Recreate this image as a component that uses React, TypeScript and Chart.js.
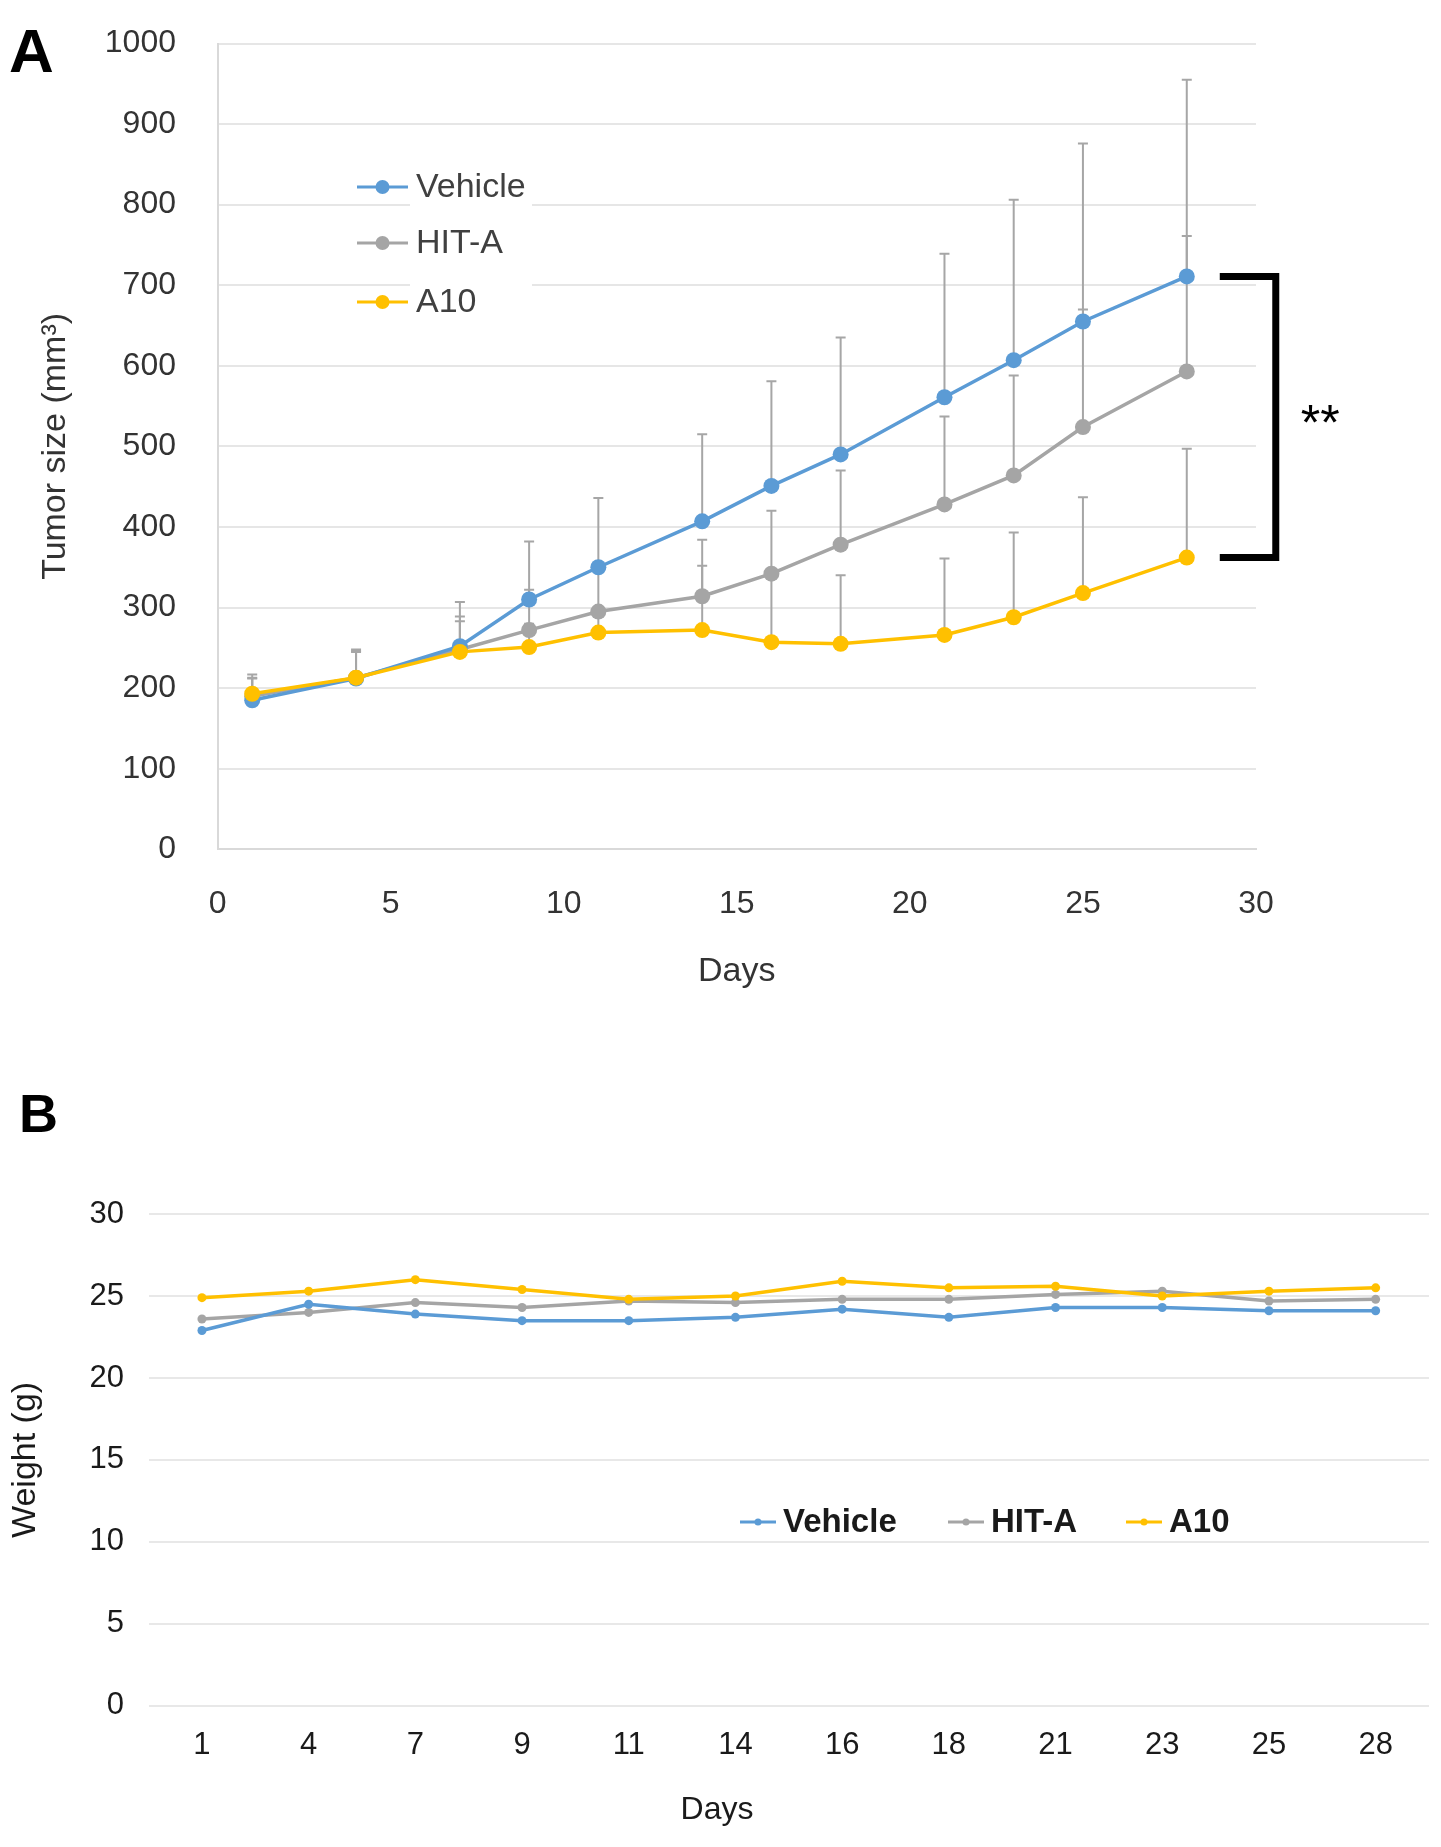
import React, { useEffect, useRef } from "react";
import { Chart, registerables } from "chart.js";

Chart.register(...registerables);

// ---------- data ----------
const days = [1, 4, 7, 9, 11, 14, 16, 18, 21, 23, 25, 28];
const seriesNames = ["Vehicle", "HIT-A", "A10"];
const seriesColors = ["#5B9BD5", "#A5A5A5", "#FFC000"];

const tumorVehicle = [185, 212, 252, 310, 350, 407, 451, 490, 561, 607, 655, 711];
const tumorHitA = [190, 213, 248, 272, 295, 314, 342, 378, 428, 464, 524, 593];
const tumorA10 = [193, 213, 245, 251, 269, 272, 257, 255, 266, 288, 318, 362];
const sdVehicle = [32, 36, 55, 72, 86, 108, 130, 145, 178, 199, 221, 244];
const sdHitA = [23, 33, 41, 50, 50, 70, 78, 92, 109, 124, 146, 168];
const sdA10 = [19, 32, 38, 29, 31, 80, 83, 85, 95, 105, 119, 135];

const weightDayLabels = ["1", "4", "7", "9", "11", "14", "16", "18", "21", "23", "25", "28"];
const weightVehicle = [22.9, 24.5, 23.9, 23.5, 23.5, 23.7, 24.2, 23.7, 24.3, 24.3, 24.1, 24.1];
const weightHitA = [23.6, 24.0, 24.6, 24.3, 24.7, 24.6, 24.8, 24.8, 25.1, 25.3, 24.7, 24.8];
const weightA10 = [24.9, 25.3, 26.0, 25.4, 24.8, 25.0, 25.9, 25.5, 25.6, 25.0, 25.3, 25.5];

const FONT = "'Liberation Sans', Arial, Helvetica, sans-serif";

// ---------- plugins ----------
const errorBarPlugin = {
  id: "errorBars",
  beforeDatasetsDraw(chart: any, _a: any, opts: any) {
    if (!opts || !opts.enabled) return;
    const { ctx, scales } = chart;
    const xs = scales.x;
    const ys = scales.y;
    ctx.save();
    ctx.strokeStyle = opts.color;
    ctx.lineWidth = opts.width;
    chart.data.datasets.forEach((ds: any) => {
      const sd = ds.errorSd;
      if (!sd) return;
      ds.data.forEach((p: any, j: number) => {
        const px = xs.getPixelForValue(p.x);
        const py = ys.getPixelForValue(p.y);
        const pt = ys.getPixelForValue(p.y + sd[j]);
        ctx.beginPath();
        ctx.moveTo(px, py);
        ctx.lineTo(px, pt);
        ctx.moveTo(px - opts.cap, pt);
        ctx.lineTo(px + opts.cap, pt);
        ctx.stroke();
      });
    });
    ctx.restore();
  },
};

const bracketPlugin = {
  id: "sigBracket",
  afterDatasetsDraw(chart: any, _a: any, opts: any) {
    if (!opts || !opts.enabled) return;
    const { ctx, scales } = chart;
    const dsTop = chart.data.datasets[opts.from];
    const dsBot = chart.data.datasets[opts.to];
    const pTop = dsTop.data[dsTop.data.length - 1];
    const pBot = dsBot.data[dsBot.data.length - 1];
    const px = scales.x.getPixelForValue(pTop.x);
    const y1 = scales.y.getPixelForValue(pTop.y);
    const y2 = scales.y.getPixelForValue(pBot.y);
    const xl = px + opts.gap;
    const xr = px + opts.gap + opts.arm;
    ctx.save();
    ctx.strokeStyle = "#000";
    ctx.lineWidth = opts.width;
    ctx.lineJoin = "miter";
    ctx.beginPath();
    ctx.moveTo(xl, y1);
    ctx.lineTo(xr, y1);
    ctx.lineTo(xr, y2);
    ctx.lineTo(xl, y2);
    ctx.stroke();
    ctx.fillStyle = "#000";
    ctx.font = opts.font;
    ctx.textAlign = "left";
    ctx.textBaseline = "alphabetic";
    ctx.fillText(opts.text, xr + opts.textGap, (y1 + y2) / 2 + opts.textDy);
    ctx.restore();
  },
};

const legendPlugin = {
  id: "customLegend",
  afterDraw(chart: any, _a: any, opts: any) {
    if (!opts || !opts.enabled) return;
    const { ctx } = chart;
    const ds = chart.data.datasets;
    ctx.save();
    if (opts.bg) {
      ctx.fillStyle = "#fff";
      ctx.fillRect(opts.bg[0], opts.bg[1], opts.bg[2], opts.bg[3]);
    }
    ctx.font = opts.font;
    ctx.textBaseline = "middle";
    ctx.textAlign = "left";
    opts.order.forEach((idx: number, k: number) => {
      const d = ds[idx];
      const x0 = opts.xs[k];
      const y = opts.ys[k];
      ctx.strokeStyle = d.borderColor;
      ctx.lineWidth = opts.lineWidth;
      ctx.beginPath();
      ctx.moveTo(x0, y);
      ctx.lineTo(x0 + opts.markerLen, y);
      ctx.stroke();
      ctx.fillStyle = d.borderColor;
      ctx.beginPath();
      ctx.arc(x0 + opts.markerLen / 2, y, opts.dot, 0, Math.PI * 2);
      ctx.fill();
      ctx.fillStyle = opts.color;
      ctx.fillText(d.label, x0 + opts.markerLen + opts.textGap, y + 1);
    });
    ctx.restore();
  },
};

const textPlugin = {
  id: "panelText",
  afterDraw(chart: any, _a: any, opts: any) {
    if (!opts || !opts.items) return;
    const { ctx } = chart;
    opts.items.forEach((it: any) => {
      ctx.save();
      ctx.font = it.font;
      ctx.fillStyle = it.color;
      ctx.textAlign = it.align || "left";
      ctx.textBaseline = it.baseline || "alphabetic";
      ctx.fillText(it.text, it.x, it.y);
      ctx.restore();
    });
  },
};

Chart.register(errorBarPlugin as any, bracketPlugin as any, legendPlugin as any, textPlugin as any);

const toPoints = (vals: number[]) => days.map((d, i) => ({ x: d, y: vals[i] }));

function TumorChart() {
  const ref = useRef<HTMLCanvasElement | null>(null);
  useEffect(() => {
    if (!ref.current) return;
    const values = [tumorVehicle, tumorHitA, tumorA10];
    const sds = [sdVehicle, sdHitA, sdA10];
    const orders = [1, 2, 0];
    const chart = new Chart(ref.current, {
      type: "line",
      data: {
        datasets: seriesNames.map((name, i) => ({
          label: name,
          data: toPoints(values[i]),
          errorSd: sds[i],
          borderColor: seriesColors[i],
          backgroundColor: seriesColors[i],
          pointBackgroundColor: seriesColors[i],
          pointBorderColor: seriesColors[i],
          borderWidth: 3.5,
          pointRadius: 8,
          pointBorderWidth: 0,
          tension: 0,
          order: orders[i],
        })) as any,
      },
      options: {
        responsive: false,
        animation: false,
        devicePixelRatio: 1,
        layout: { padding: { left: 0, right: 185, top: 43.5, bottom: 0 } },
        plugins: {
          legend: { display: false },
          tooltip: { enabled: false },
          errorBars: { enabled: true, color: "#A6A6A6", width: 2, cap: 5 },
          sigBracket: {
            enabled: true, from: 0, to: 2, gap: 33, arm: 56, width: 7,
            text: "**", font: `50px ${FONT}`, textGap: 25, textDy: 23,
          },
          customLegend: {
            enabled: true,
            order: [0, 1, 2],
            xs: [357, 357, 357],
            ys: [187, 243, 302],
            markerLen: 51,
            textGap: 8,
            dot: 7,
            lineWidth: 3,
            font: `34px ${FONT}`,
            color: "#404040",
            bg: [410, 160, 122, 165],
          },
          panelText: {
            items: [{ text: "A", x: 9, y: 72, font: `bold 62px ${FONT}`, color: "#000" }],
          },
        } as any,
        scales: {
          x: {
            type: "linear",
            min: 0,
            max: 30,
            ticks: {
              stepSize: 5,
              padding: 36,
              color: "#333",
              font: { family: FONT, size: 32 },
              callback: (v: any) => String(v),
            },
            grid: { display: false, drawTicks: false },
            border: { display: true, color: "#D9D9D9", width: 2 },
            title: {
              display: true,
              text: "Days",
              color: "#333",
              font: { family: FONT, size: 34 },
              padding: { top: 0, bottom: 18 },
            },
            afterFit: (s: any) => { s.height = 160.7; },
          },
          y: {
            min: 0,
            max: 1000,
            ticks: {
              stepSize: 100,
              padding: 0,
              color: "#333",
              font: { family: FONT, size: 32 },
              callback: (v: any) => String(v),
            },
            grid: {
              color: "#E6E6E6",
              lineWidth: 2,
              drawTicks: true,
              tickLength: 41.6,
              tickColor: "rgba(0,0,0,0)",
            },
            border: { display: true, color: "#D9D9D9", width: 2 },
            title: {
              display: true,
              text: "Tumor size (mm³)",
              color: "#333",
              font: { family: FONT, size: 34 },
              padding: { top: 35.6, bottom: 0 },
            },
            afterFit: (s: any) => { s.width = 217.6; },
          },
        } as any,
      },
    });
    return () => chart.destroy();
  }, []);
  return (
    <canvas
      ref={ref}
      width={1441}
      height={1010}
      style={{ position: "absolute", left: 0, top: 0, width: 1441, height: 1010 }}
    />
  );
}

function WeightChart() {
  const ref = useRef<HTMLCanvasElement | null>(null);
  useEffect(() => {
    if (!ref.current) return;
    const values = [weightVehicle, weightHitA, weightA10];
    const orders = [1, 2, 0];
    const chart = new Chart(ref.current, {
      type: "line",
      data: {
        labels: weightDayLabels,
        datasets: seriesNames.map((name, i) => ({
          label: name,
          data: values[i],
          borderColor: seriesColors[i],
          backgroundColor: seriesColors[i],
          pointBackgroundColor: seriesColors[i],
          pointBorderColor: seriesColors[i],
          borderWidth: 3.5,
          pointRadius: 4.5,
          pointBorderWidth: 0,
          tension: 0,
          order: orders[i],
        })),
      },
      options: {
        responsive: false,
        animation: false,
        devicePixelRatio: 1,
        layout: { padding: { left: 0, right: 12, top: 174.1, bottom: 0 } },
        plugins: {
          legend: { display: false },
          tooltip: { enabled: false },
          customLegend: {
            enabled: true,
            order: [0, 1, 2],
            xs: [740, 948, 1126],
            ys: [482, 482, 482],
            markerLen: 36,
            textGap: 7,
            dot: 3.5,
            lineWidth: 3,
            font: `bold 33px ${FONT}`,
            color: "#1A1A1A",
          },
          panelText: {
            items: [
              { text: "B", x: 19, y: 92, font: `bold 54px ${FONT}`, color: "#000" },
              { text: "Days", x: 717, y: 770, font: `32px ${FONT}`, color: "#1A1A1A", align: "center", baseline: "middle" },
            ],
          },
        } as any,
        scales: {
          x: {
            type: "category",
            offset: true,
            ticks: {
              padding: 21.5,
              color: "#1A1A1A",
              font: { family: FONT, size: 31 },
            },
            grid: { display: false, drawTicks: false },
            border: { display: false },
            afterFit: (s: any) => { s.height = 141.2; },
          },
          y: {
            min: 0,
            max: 30,
            ticks: {
              stepSize: 5,
              padding: 24.6,
              color: "#1A1A1A",
              font: { family: FONT, size: 31 },
              callback: (v: any) => String(v),
            },
            grid: { color: "#E8E8E8", lineWidth: 2, drawTicks: false },
            border: { display: false },
            title: {
              display: true,
              text: "Weight (g)",
              color: "#1A1A1A",
              font: { family: FONT, size: 34 },
              padding: { top: 5.6, bottom: 0 },
            },
            afterFit: (s: any) => { s.width = 148.6; },
          },
        } as any,
      },
    });
    return () => chart.destroy();
  }, []);
  return (
    <canvas
      ref={ref}
      width={1441}
      height={807}
      style={{ position: "absolute", left: 0, top: 1040, width: 1441, height: 807 }}
    />
  );
}

export default function App() {
  return (
    <div
      style={{
        position: "absolute",
        left: 0,
        top: 0,
        width: 1441,
        height: 1847,
        background: "#fff",
        overflow: "hidden",
      }}
    >
      <TumorChart />
      <WeightChart />
    </div>
  );
}
